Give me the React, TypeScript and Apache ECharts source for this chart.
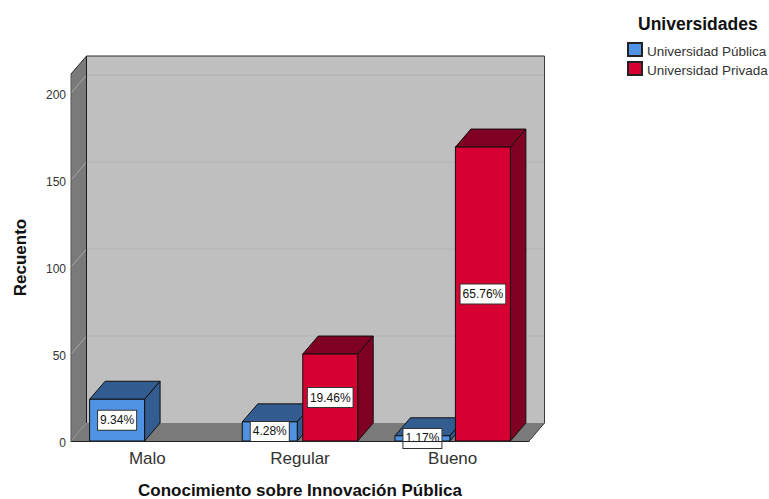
import React, { useEffect, useRef } from "react";
import * as echarts from "echarts";

const categories = ["Malo", "Regular", "Bueno"];
const seriesNames = ["Universidad Pública", "Universidad Privada"];
const publicValues = [24, 11, 3];
const privateValues = [0, 50, 169];
const publicPercent = ["9.34%", "4.28%", "1.17%"];
const privatePercent = ["", "19.46%", "65.76%"];
const yTicks = [50, 100, 150, 200];
const yMax = 211;

const DX = 15.5;
const DY = 18;
const FONT = "Liberation Sans, Arial, sans-serif";

function poly(points: number[][], fill: string, stroke = "#111", lineWidth = 1, z2 = 1) {
  return { type: "polygon", z2, shape: { points }, style: { fill, stroke, lineWidth } };
}

function seg(x1: number, y1: number, x2: number, y2: number, stroke: string, z2 = 3) {
  return { type: "line", z2, shape: { x1, y1, x2, y2 }, style: { stroke, lineWidth: 1 } };
}

function barRenderer(offsetSign: number, percent: string[], front: string, dark: string) {
  return (params: any, api: any) => {
    const v = api.value(1);
    if (!v) return { type: "group", children: [] };
    const band = api.size([1, 0])[0];
    const w = band * 0.36;
    const [cx, top] = api.coord([api.value(0), v]);
    const [, base] = api.coord([api.value(0), 0]);
    const center = cx + (offsetSign * (w + 5.5)) / 2;
    const l = center - w / 2;
    const r = center + w / 2;
    return {
      type: "group",
      children: [
        poly([[l, top], [l + DX, top - DY], [r + DX, top - DY], [r, top]], dark),
        poly([[r, top], [r + DX, top - DY], [r + DX, base - DY], [r, base]], dark),
        poly([[l, top], [r, top], [r, base], [l, base]], front),
        {
          type: "text",
          z2: 10,
          x: center,
          y: (top + base) / 2,
          style: {
            text: percent[params.dataIndex],
            font: `12px ${FONT}`,
            fill: "#111",
            align: "center",
            verticalAlign: "middle",
            backgroundColor: "#fff",
            borderColor: "#333",
            borderWidth: 1,
            padding: [4, 2, 3, 2],
          },
        },
      ],
    };
  };
}

function chamberRenderer(params: any, api: any) {
  const cs = params.coordSys;
  const l = cs.x;
  const r = cs.x + cs.width;
  const t = cs.y;
  const b = cs.y + cs.height;
  const children: any[] = [
    poly([[l + DX, t - DY], [r + DX, t - DY], [r + DX, b - DY], [l + DX, b - DY]], "#bfbfbf", "none"),
    poly([[l, t], [l + DX, t - DY], [l + DX, b - DY], [l, b]], "#7a7a7a", "none"),
    poly([[l, b], [l + DX, b - DY], [r + DX, b - DY], [r, b]], "#7a7a7a", "none"),
  ];
  yTicks.forEach((tick) => {
    const y = api.coord([0, tick])[1];
    children.push(seg(l + DX, y - DY, r + DX, y - DY, "#b2b2b2", 2));
    children.push(seg(l, y, l + DX, y - DY, "#a8a8a8", 2));
  });
  children.push(seg(l + DX, t - DY, r + DX, t - DY, "#2a2a2a"));
  children.push(seg(l + DX, t - DY, l + DX, b - DY, "#1a1a1a"));
  children.push(seg(r + DX, t - DY, r + DX, b - DY, "#3a3a3a"));
  children.push(seg(l, t, l + DX, t - DY, "#2a2a2a"));
  children.push(seg(l, t, l, b, "#555555"));
  children.push(seg(r, b, r + DX, b - DY, "#333333"));
  return { type: "group", children };
}

export default function App() {
  const ref = useRef<HTMLDivElement>(null);
  useEffect(() => {
    const chart = echarts.init(ref.current!, null, { renderer: "svg" });
    chart.setOption({
      animation: false,
      backgroundColor: "#fff",
      title: {
        text: "Universidades",
        left: 638,
        top: 15,
        padding: 0,
        textStyle: { fontFamily: FONT, fontSize: 17.5, fontWeight: "bold", color: "#111" },
      },
      legend: {
        orient: "vertical",
        left: 627,
        top: 42,
        padding: 0,
        itemWidth: 14,
        itemHeight: 13,
        itemGap: 3,
        data: seriesNames,
        icon: "rect",
        formatter: (name: string) => `{a|${name}}`,
        textStyle: {
          fontFamily: FONT,
          fontSize: 13.5,
          color: "#333",
          rich: { a: { fontFamily: FONT, fontSize: 13.5, color: "#333", padding: [3, 0, 0, 0] } },
        },
      },
      grid: { left: 71, right: 240, top: 74, bottom: 58, outerBoundsMode: "none" },
      xAxis: {
        type: "category",
        data: categories,
        name: "Conocimiento sobre Innovación Pública",
        nameLocation: "middle",
        nameGap: 41,
        nameTextStyle: { fontFamily: FONT, fontSize: 17, fontWeight: "bold", color: "#111" },
        axisLine: { show: true, lineStyle: { color: "#222", width: 1 } },
        axisTick: { show: false },
        axisLabel: { fontFamily: FONT, fontSize: 17, color: "#333", margin: 9 },
        z: 5,
      },
      yAxis: {
        type: "value",
        min: 0,
        max: yMax,
        interval: 50,
        name: "Recuento",
        nameLocation: "middle",
        nameGap: 42,
        nameTextStyle: { fontFamily: FONT, fontSize: 17, fontWeight: "bold", color: "#111" },
        axisLine: { show: false },
        axisTick: { show: false },
        splitLine: { show: false },
        axisLabel: {
          margin: 5,
          showMaxLabel: false,
          formatter: "{a|{value}}",
          rich: { a: { fontFamily: FONT, fontSize: 12, color: "#333", padding: [3, 0, 0, 0] } },
        },
      },
      series: [
        {
          type: "custom",
          name: "chamber",
          z: 1,
          silent: true,
          clip: false,
          data: [[0, 0]],
          renderItem: chamberRenderer,
        },
        {
          type: "custom",
          name: seriesNames[0],
          z: 2,
          clip: false,
          itemStyle: { color: "#5093e4", borderColor: "#222", borderWidth: 1 },
          encode: { x: 0, y: 1 },
          data: publicValues.map((v, i) => [i, v]),
          renderItem: barRenderer(-1, publicPercent, "#5093e4", "#335c90"),
        },
        {
          type: "custom",
          name: seriesNames[1],
          z: 3,
          clip: false,
          itemStyle: { color: "#d60032", borderColor: "#222", borderWidth: 1 },
          encode: { x: 0, y: 1 },
          data: privateValues.map((v, i) => [i, v]),
          renderItem: barRenderer(1, privatePercent, "#d60032", "#7f0022"),
        },
      ],
    });
    return () => chart.dispose();
  }, []);
  return <div ref={ref} style={{ position: "fixed", left: 0, top: 0, width: 769, height: 499 }} />;
}
